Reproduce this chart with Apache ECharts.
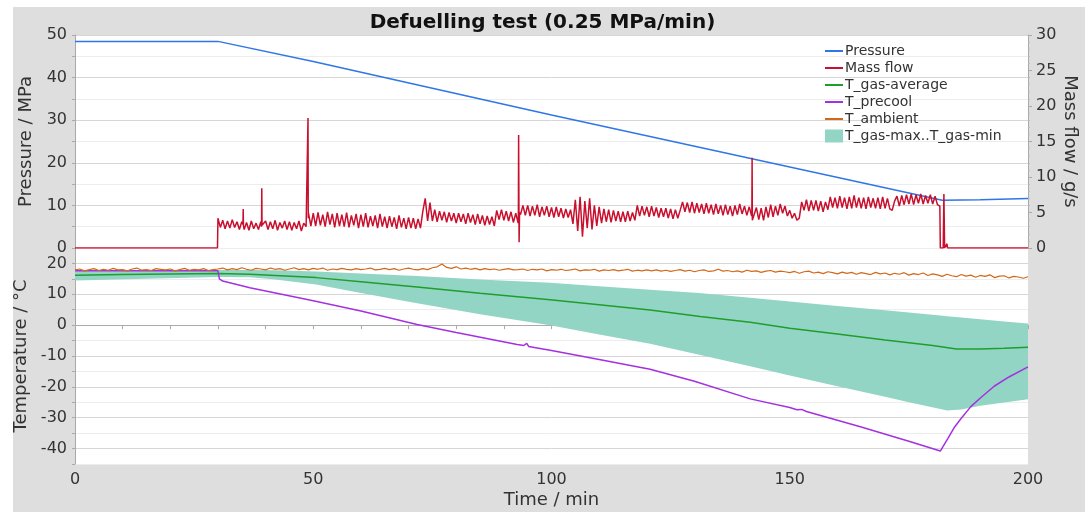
<!DOCTYPE html>
<html>
<head>
<meta charset="utf-8">
<script src="https://cdn.jsdelivr.net/npm/echarts@6/dist/echarts.min.js"></script>
<style>
body{margin:0;background:#fff;}
#bg{position:absolute;left:13px;top:7px;right:0;bottom:0;background:#dedede;}
#chart{position:absolute;left:0;top:0;width:1085px;height:512px;}
</style>
</head>
<body>
<div id="bg"></div>
<div id="chart"></div>
<script>
// pressure in MPa, [min, value]
var pressure = [[0,48.5],[30,48.5],[50,43.8],[100,31.2],[150,19.0],[182,11.2],[190,11.3],[200,11.6]];

// mass flow in g/s: readings every 0.5 min from t = 30 to 181.5
var massFlowStart = 30, massFlowStep = 0.5;
var massFlowSamples = [
  4.2,2.9,3.9,2.7,3.8,2.8,4.0,2.9,3.7,2.6,
  3.7,2.6,3.6,2.5,3.8,2.7,3.5,2.6,3.7,3.3,
  3.8,2.6,3.7,2.7,3.9,2.5,3.6,2.8,3.8,2.6,
  3.7,2.5,3.6,2.7,3.8,2.4,3.5,3.0,4.9,3.1,
  4.9,3.1,5.0,3.2,4.7,3.0,5.1,3.3,4.8,2.9,
  4.9,3.1,4.7,3.0,5.0,2.9,4.6,3.2,4.8,2.8,
  4.7,3.0,4.9,2.9,4.5,3.1,4.6,2.8,4.8,3.0,
  4.4,2.8,4.5,3.0,4.3,2.7,4.6,2.9,4.2,2.7,
  4.3,2.8,4.2,2.7,4.1,2.8,5.2,7.0,3.8,6.4,
  3.8,5.4,3.7,5.2,3.9,5.1,3.6,5.0,3.8,4.9,
  3.5,4.9,3.7,4.8,3.4,4.9,3.6,4.7,3.3,4.8,
  3.4,4.6,3.2,4.5,3.3,4.4,3.1,5.3,4.0,5.4,
  3.9,5.2,3.8,5.1,3.6,4.9,3.5,4.7,6.0,4.6,
  6.0,4.5,5.9,4.6,6.1,4.4,5.8,4.6,5.9,4.4,
  5.7,4.3,5.8,4.4,5.6,4.2,5.5,4.3,5.4,3.4,
  6.8,2.4,7.2,1.6,6.6,2.8,7.0,2.6,6.0,3.1,
  5.8,3.5,5.5,3.7,5.4,3.6,5.3,3.8,5.2,3.7,
  5.1,3.7,5.2,3.8,5.0,3.9,6.0,4.5,5.9,4.6,
  5.8,4.4,5.9,4.5,5.7,4.3,5.6,4.4,5.6,4.2,
  5.5,4.1,5.4,4.2,5.3,6.5,5.1,6.4,5.0,6.5,
  4.9,6.3,5.0,6.2,4.8,6.3,4.9,6.1,4.7,6.2,
  4.8,6.0,4.6,6.1,4.7,5.9,4.5,6.0,4.7,6.2,
  4.8,5.9,4.6,5.8,4.5,3.8,5.7,4.0,5.6,3.9,
  5.8,4.3,6.1,4.4,5.9,4.6,6.2,4.9,5.9,4.5,
  5.3,4.2,4.9,3.9,4.2,6.5,5.3,6.8,5.2,6.7,
  5.3,6.7,5.2,6.6,5.1,6.5,5.4,7.2,5.7,7.1,
  5.6,7.3,5.7,7.1,5.5,7.2,5.6,7.4,5.7,7.1,
  5.6,7.1,5.5,7.2,5.7,7.0,5.6,7.1,5.5,7.2,
  5.6,7.0,5.5,5.3,6.6,7.3,5.9,7.4,6.1,7.5,
  6.2,7.6,6.1,7.5,6.3,7.6,6.2,7.4,6.3,7.5,
  6.2,7.3,6.1,5.9];
// flat parts, short spikes and the shut-off, [min, value]
var massFlowEvents = [[0,0],[29.9,0],
  [35.25,3.3],[35.3,5.5],[35.35,3.2],
  [39.15,3.0],[39.2,8.4],[39.25,3.2],
  [48.85,3.0],[48.9,18.3],[48.95,4.2],
  [93.05,4.1],[93.1,15.9],[93.2,0.8],[93.3,5.0],
  [142.05,5.0],[142.1,12.7],[142.15,3.9],
  [181.6,0],[182.2,0],[182.35,7.6],[182.5,0],[182.9,0],[183,0.6],[183.1,0],
  [191,0],[191.1,0.15],[191.2,0],[200,0]];

// temperatures in °C
var tGasAvg = [[0,16.2],[10,16.4],[20,16.6],[30,16.7],[36.7,16.5],[42,16.1],[50.6,15.4],[60,14.1],[71.8,12.4],
  [85,10.3],[99.7,8.2],[110,6.6],[120.7,4.9],[131.2,2.8],[141.7,0.9],[150,-1.0],[160,-2.9],[170,-4.8],
  [180,-6.6],[185,-7.7],[190,-7.7],[195,-7.5],[200,-7.2]];

var tPrecool = [[0,17.6],[30,17.6],[30.3,15.0],[31,14.3],[36.7,12.1],[50,7.9],[60,4.6],[71.8,0.2],[80,-2.4],
  [92.8,-6.3],[94.2,-6.6],[94.8,-5.9],[95.2,-6.9],[100,-8.2],[110,-11.1],[120.7,-14.3],[130,-18.2],
  [141.7,-23.9],[150,-26.7],[151.5,-27.4],[152.5,-27.3],[153.5,-28.0],[165,-33.0],[175,-37.6],[181.6,-40.8],
  [182.5,-38.5],[183.2,-36.7],[184.6,-33.0],[186,-30.2],[188,-26.4],[190,-23.6],[192.9,-19.8],[196,-16.8],
  [200,-13.5]];

// ambient, one reading per minute from 0 to 200
var tAmbient = [17.9,18.2,17.6,18.0,18.3,17.7,18.1,17.8,18.4,17.9,18.0,17.6,18.2,18.5,17.8,18.0,17.7,18.3,18.1,17.9,
  18.2,17.6,18.0,18.4,17.8,18.1,17.9,18.3,17.7,18.0,18.2,
  18.5,17.9,18.3,18.0,18.6,18.1,17.8,18.4,18.2,17.9,18.5,18.1,18.3,17.8,18.2,18.6,18.0,18.3,17.9,18.4,
  18.1,18.5,17.8,18.2,18.0,18.4,18.1,17.9,18.3,18.0,
  18.2,18.5,17.9,18.1,18.4,18.0,18.3,17.8,18.2,18.5,18.1,17.9,18.3,18.0,18.6,18.9,19.8,18.7,18.4,18.9,
  18.2,18.5,18.1,18.4,17.9,18.3,18.0,18.2,17.8,18.1,
  18.3,17.9,18.0,18.2,17.7,18.1,17.9,18.2,17.6,18.0,17.8,18.1,17.7,17.9,18.2,17.6,17.9,17.8,18.1,17.5,
  17.9,17.7,18.0,17.6,17.8,18.1,17.5,17.8,17.6,17.9,
  17.6,17.9,17.5,17.8,17.4,17.7,18.0,17.5,17.8,17.3,17.7,17.9,17.4,17.6,18.1,17.5,17.7,17.3,17.6,17.2,
  17.8,17.4,17.6,17.1,17.5,17.7,17.2,17.5,17.3,17.0,
  17.4,16.8,17.3,17.5,16.9,17.2,16.7,17.3,17.0,16.6,17.2,16.8,17.1,16.5,17.0,16.7,16.4,17.1,16.6,16.9,
  16.3,16.8,16.5,17.0,16.2,16.7,16.4,16.9,16.1,16.6,
  16.3,15.8,16.5,16.0,15.7,16.4,15.9,16.2,15.5,16.1,15.8,16.3,15.4,15.9,16.0,15.3,15.8,15.6,15.2,15.7];

// T_gas max / min envelope
var bandT   = [0,30,36.7,42,50.6,60,71.8,85,99.7,110,120.7,131,141.7,150,160,170,175,181.6,183,186,190,195,200];
var bandMax = [17.8,17.9,17.9,17.8,17.4,16.7,15.9,14.8,13.7,12.6,11.5,10.4,8.9,7.7,6.2,4.8,4.1,3.1,2.9,2.5,1.9,1.2,0.5];
var bandMin = [14.5,15.6,15.5,14.8,13.2,10.4,7.1,3.5,0,-3.0,-6.0,-9.6,-13.3,-16.3,-19.8,-23.2,-25.0,-27.2,-27.7,-27.3,-26.1,-25.1,-24.0];

var chart = echarts.init(document.getElementById('chart'));

var massData = massFlowEvents.slice();
for (var m = 0; m < massFlowSamples.length; m++) {
  massData.push([massFlowStart + m * massFlowStep, massFlowSamples[m]]);
}
massData.sort(function (a, b) { return a[0] - b[0]; });

var ambData = [];
for (var i = 0; i < tAmbient.length; i++) ambData.push([i, tAmbient[i]]);

var bandData = [];
for (var j = 0; j < bandT.length; j++) bandData.push([bandT[j], bandMax[j], bandMin[j]]);

var font = 'DejaVu Sans';
var major = '#d6d6d6', minor = '#ededed';
var bandColor = '#93d5c4';
var nameStyle = {fontFamily: font, fontSize: 18, color: '#333'};
var tickStyle = {fontFamily: font, fontSize: 16, color: '#333'};

var option = {
  animation: false,
  textStyle: {fontFamily: font},
  title: {
    text: 'Defuelling test (0.25 MPa/min)',
    left: 'center', top: 8,
    textStyle: {fontFamily: font, fontSize: 20, fontWeight: 'bold', color: '#111'}
  },
  legend: {
    orient: 'vertical', left: 819, top: 39,
    itemWidth: 18, itemHeight: 13, itemGap: 3,
    itemStyle: {opacity: 0},
    textStyle: {fontFamily: font, fontSize: 14, color: '#333', padding: [0, 0, 0, -3]},
    data: ['Pressure', 'Mass flow', 'T_gas-average', 'T_precool', 'T_ambient',
      {name: 'T_gas-max..T_gas-min', icon: 'rect', itemStyle: {color: bandColor, opacity: 1}}]
  },
  grid: [
    {left: 75, right: 57, top: 35, height: 213, show: true, backgroundColor: '#fff', borderWidth: 0,
      outerBoundsMode: 'none'},
    {left: 75, right: 57, top: 248, height: 216, show: true, backgroundColor: '#fff', borderWidth: 0,
      outerBoundsMode: 'none'}
  ],
  xAxis: [
    {type: 'value', gridIndex: 0, min: 0, max: 200, axisLabel: {show: false}, axisLine: {show: false},
      axisTick: {show: false}, splitLine: {show: false}},
    {type: 'value', gridIndex: 1, min: 0, max: 200, interval: 10,
      name: 'Time / min', nameLocation: 'middle', nameGap: 27, nameTextStyle: nameStyle,
      axisLine: {lineStyle: {color: '#aaa'}},
      axisTick: {length: 4, lineStyle: {color: '#aaa'}},
      axisLabel: Object.assign({margin: 8,
        formatter: function (v) { return v % 50 === 0 ? v : ''; }}, tickStyle),
      splitLine: {show: false}}
  ],
  yAxis: [
    {type: 'value', gridIndex: 0, min: 0, max: 50, interval: 5,
      name: 'Pressure / MPa', nameLocation: 'middle', nameGap: 40, nameTextStyle: nameStyle,
      axisLine: {show: true, lineStyle: {color: '#aaa'}},
      axisTick: {length: 3, lineStyle: {color: '#aaa'}},
      axisLabel: Object.assign({margin: 8,
        formatter: function (v) { return v % 10 === 0 ? v : ''; }}, tickStyle),
      splitLine: {lineStyle: {color: [major, minor], width: 1}}},
    {type: 'value', gridIndex: 0, position: 'right', min: 0, max: 30, interval: 5,
      name: 'Mass flow / g/s', nameLocation: 'middle', nameGap: 42, nameRotate: -90,
      nameMoveOverlap: false,
      nameTextStyle: Object.assign({verticalAlign: 'middle', align: 'center'}, nameStyle),
      axisLine: {show: true, lineStyle: {color: '#aaa'}},
      axisTick: {length: 4, lineStyle: {color: '#aaa'}},
      minorTick: {show: true, splitNumber: 5, length: 2, lineStyle: {color: '#bbb'}},
      axisLabel: Object.assign({margin: 8}, tickStyle),
      splitLine: {show: false}},
    {type: 'value', gridIndex: 1, min: -45, max: 25, interval: 5,
      name: 'Temperature / °C', nameLocation: 'middle', nameGap: 40, nameTextStyle: nameStyle,
      axisLine: {show: true, lineStyle: {color: '#aaa'}},
      axisTick: {length: 3, lineStyle: {color: '#aaa'}},
      axisLabel: Object.assign({margin: 8,
        formatter: function (v) { return v % 10 === 0 ? v : ''; }}, tickStyle),
      splitLine: {lineStyle: {color: [minor, major], width: 1}}}
  ],
  series: [
    {name: 'T_gas-max..T_gas-min', type: 'custom', xAxisIndex: 1, yAxisIndex: 2,
      itemStyle: {color: bandColor}, data: bandData, encode: {x: 0, y: [1, 2]}, z: 1,
      renderItem: function (params, api) {
        if (params.dataIndex !== 0) return;
        var pts = [];
        for (var k = 0; k < bandData.length; k++) pts.push(api.coord([bandData[k][0], bandData[k][1]]));
        for (var k2 = bandData.length - 1; k2 >= 0; k2--) pts.push(api.coord([bandData[k2][0], bandData[k2][2]]));
        return {type: 'polygon', shape: {points: pts}, style: {fill: bandColor}};
      }},
    {name: 'T_gas-average', type: 'line', xAxisIndex: 1, yAxisIndex: 2, symbol: 'none',
      lineStyle: {width: 1.5, color: '#1f9e2c'}, itemStyle: {color: '#1f9e2c'}, data: tGasAvg, z: 3},
    {name: 'T_precool', type: 'line', xAxisIndex: 1, yAxisIndex: 2, symbol: 'none',
      lineStyle: {width: 1.5, color: '#a431e0'}, itemStyle: {color: '#a431e0'}, data: tPrecool, z: 3},
    {name: 'T_ambient', type: 'line', xAxisIndex: 1, yAxisIndex: 2, symbol: 'none',
      lineStyle: {width: 1.2, color: '#d2691a'}, itemStyle: {color: '#d2691a'}, data: ambData, z: 4},
    {name: 'Pressure', type: 'line', xAxisIndex: 0, yAxisIndex: 0, symbol: 'none',
      lineStyle: {width: 1.5, color: '#2f76e6'}, itemStyle: {color: '#2f76e6'}, data: pressure, z: 3},
    {name: 'Mass flow', type: 'line', xAxisIndex: 0, yAxisIndex: 1, symbol: 'none',
      lineStyle: {width: 1.5, color: '#c8102e'}, itemStyle: {color: '#c8102e'}, data: massData, z: 4}
  ]
};
chart.setOption(option);
</script>
</body>
</html>
